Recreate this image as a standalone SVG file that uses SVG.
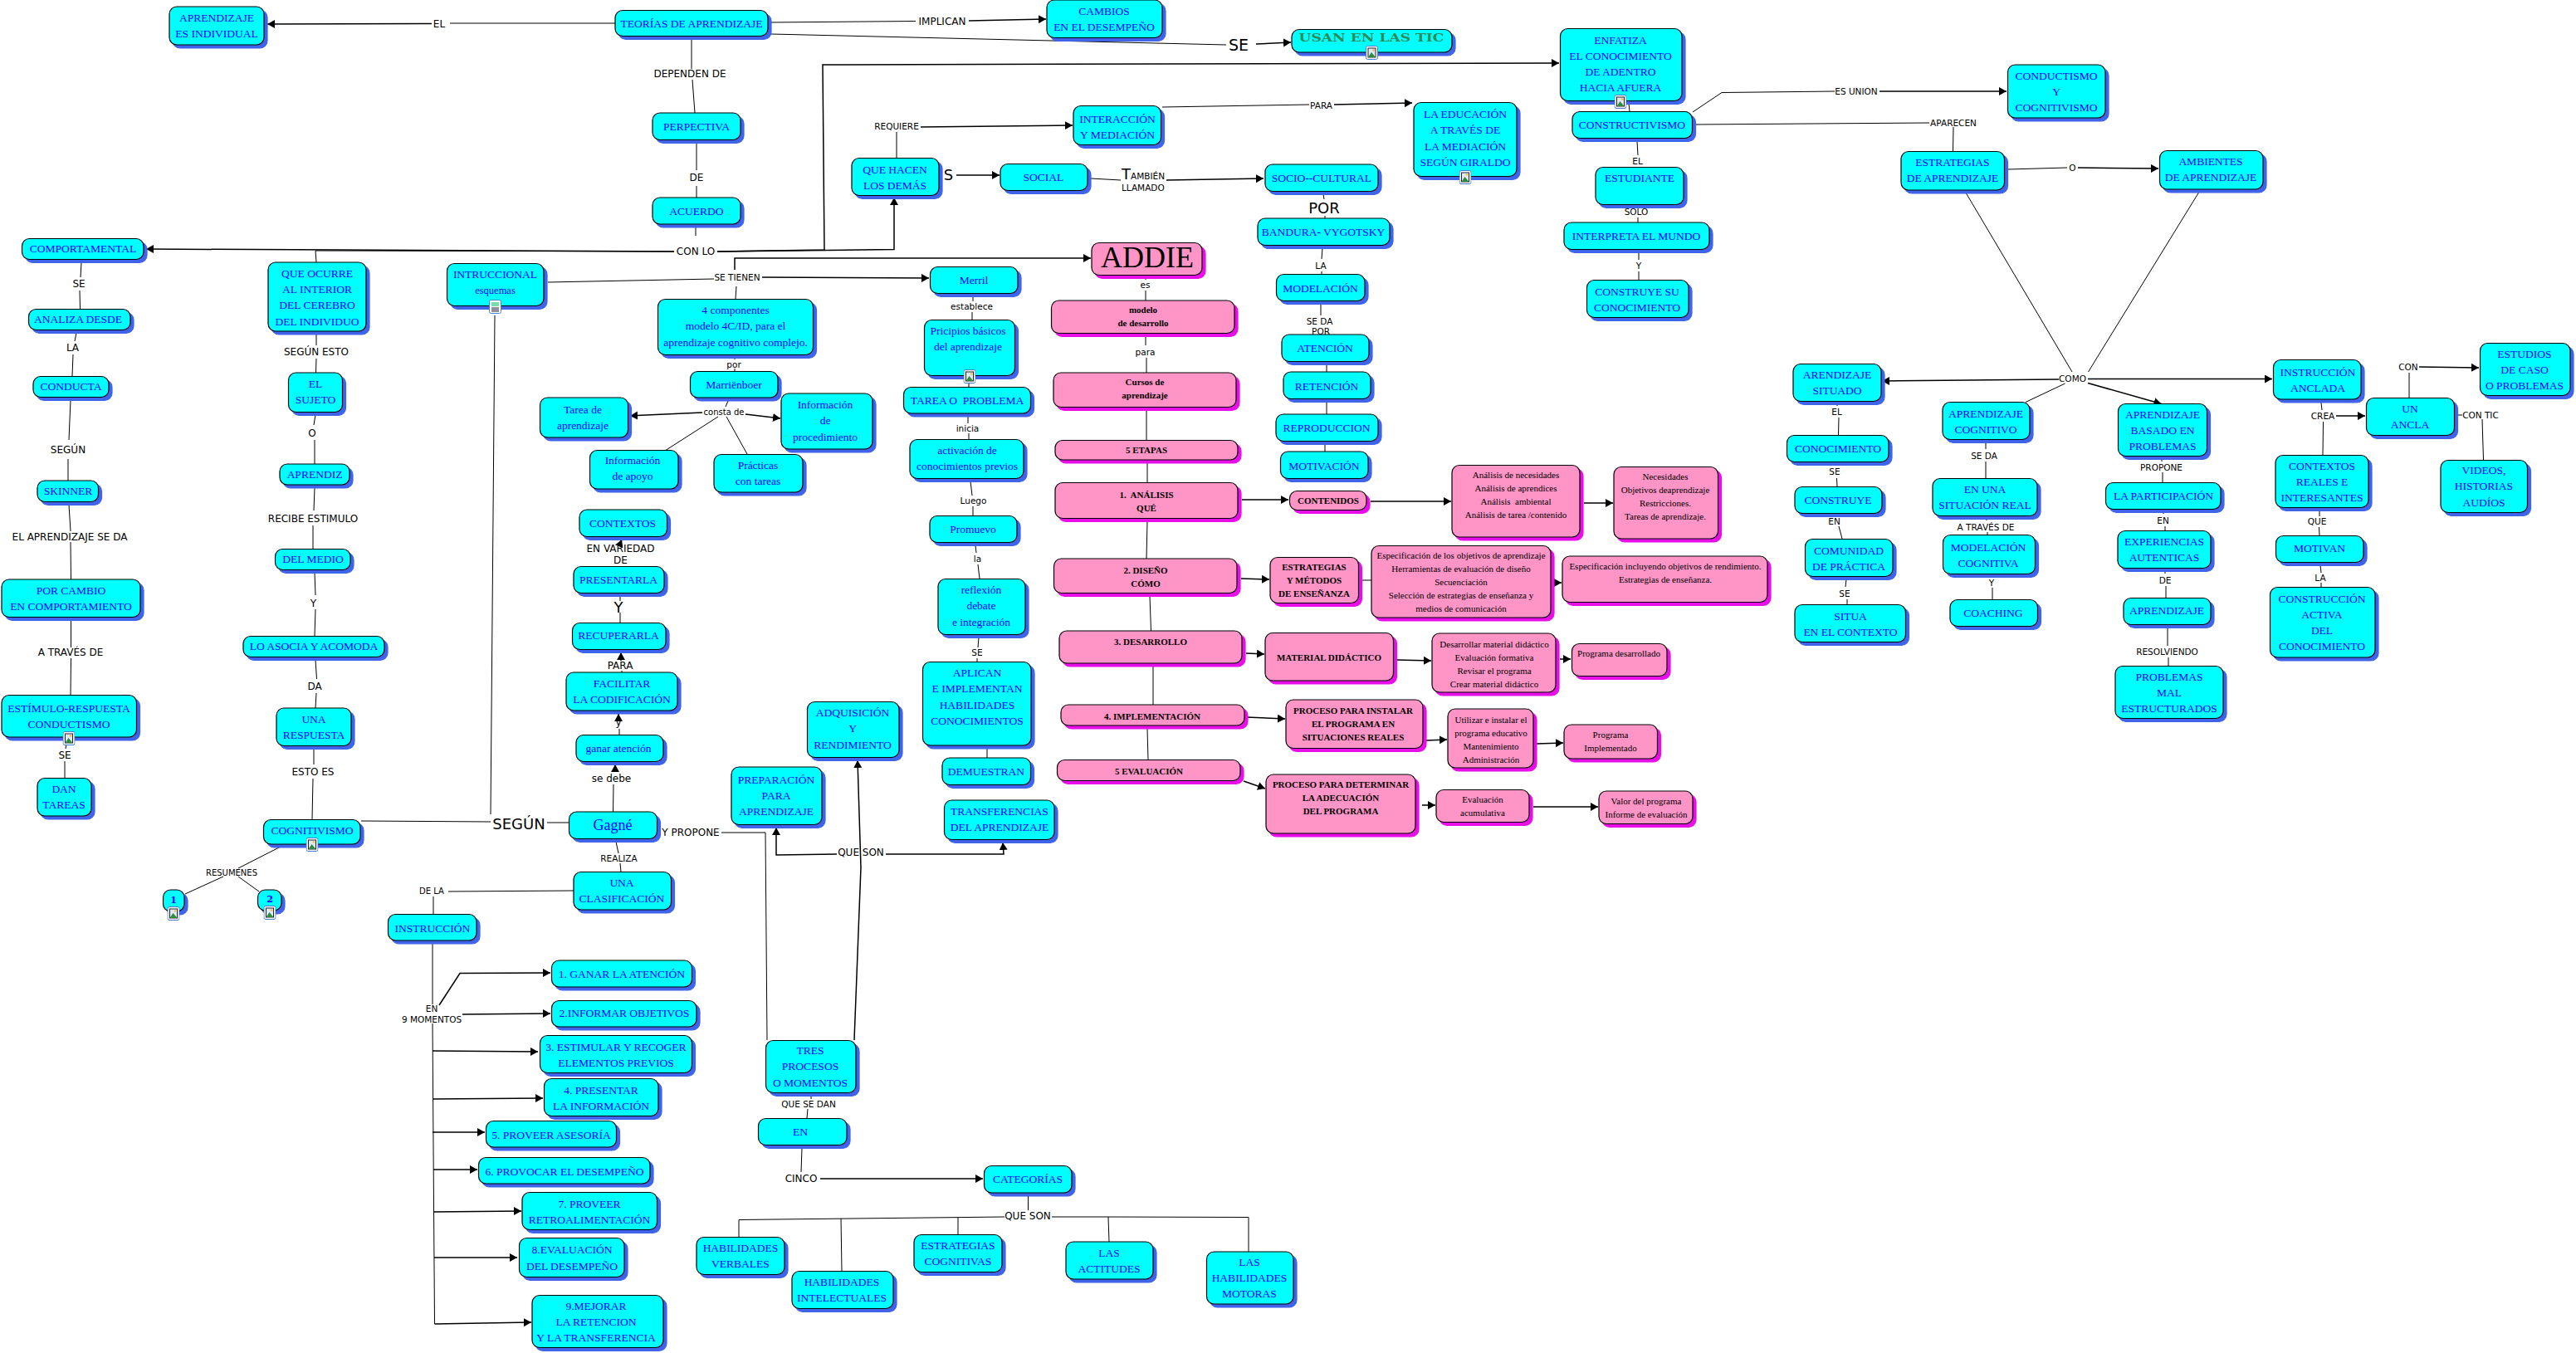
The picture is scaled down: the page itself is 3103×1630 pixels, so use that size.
<svg xmlns="http://www.w3.org/2000/svg" width="3103" height="1630" viewBox="0 0 3103 1630">
<style>
text{font-family:"Liberation Serif","Times New Roman",serif;text-anchor:middle;font-size:13.5px;fill:#00f}
.n>rect{rx:9px;stroke:#000;stroke-width:1.2}
.c>rect{fill:#0ff;filter:drop-shadow(4px 4px 0 #3f63e9)}
.p>rect{fill:#ff94c6;filter:drop-shadow(4px 4px 0 #e80ee8)}
.p text{fill:#000;font-size:11px}
.b text{font-weight:bold}
#connectors path{fill:none;stroke:#000;stroke-width:1}
#connectors .a{stroke-width:1.5;marker-end:url(#ah)}
#labels text{font-family:"DejaVu Sans",sans-serif;fill:#000;font-size:10.5px;dominant-baseline:central}
#labels .m{font-size:12px}
#labels .g{font-size:18px}
</style>
<defs>
<marker id="ah" markerUnits="userSpaceOnUse" markerWidth="10" markerHeight="12" refX="9" refY="5" orient="auto"><path d="M0,0L9,5L0,10Z" fill="#000"/></marker>
<symbol id="ic" width="15" height="17" viewBox="0 0 15 17"><rect x=".5" y=".5" width="14" height="16" rx="2" fill="#fff" stroke="#4a7fd0"/><rect x="3" y="3" width="9" height="11" fill="#dfe9f5" stroke="#223"/><path d="M3,14L7,8L12,14Z" fill="#2e8b3d"/><circle cx="9.5" cy="5.5" r="1.3" fill="#f2c230"/></symbol>
<symbol id="dc" width="15" height="17" viewBox="0 0 15 17"><rect x=".5" y=".5" width="14" height="16" rx="2" fill="#fff" stroke="#4a7fd0"/><rect x="3" y="3" width="9" height="5" fill="#7da"/><path d="M3,10H12M3,12H12M3,14H12" stroke="#223" fill="none"/></symbol>
</defs>
<rect width="3103" height="1630" fill="#fff"/>
<g id="connectors">
<path d="M741,28L542,28"/><path class="a" d="M520,28.5L322,29"/>
<path d="M925,27L1103,25.5"/><path class="a" d="M1167,25L1260,23"/>
<path d="M929,41L1477,54"/><path class="a" d="M1513,53L1555,51"/>
<path d="M833,46L833,83M834,96L837,136"/>
<path d="M839,171L839,205M839,224L839,238"/>
<path d="M838,274L838,284"/>
<path class="a" d="M812,303L176,300"/>
<path d="M812,303L380,302L381,316"/>
<path class="a" d="M864,303L993,301L991,78L1878,76"/>
<path class="a" d="M864,303L1077,300.5L1077,238"/>
<path d="M660,340L860,336"/><path class="a" d="M918,334L1119,335"/>
<path class="a" d="M885,325L885,311L1314,311"/>
<path d="M887,345L886,360"/>
<path d="M885,431L885,433M885,444L885,447"/>
<path d="M877,483L874,490"/>
<path class="a" d="M846,497L759,501"/><path class="a" d="M898,499L940,504"/>
<path d="M865,502L801,543M875,502L900,547"/>
<path d="M596,380L591,981"/>
<path d="M435,989L591,990M659,991L685,991"/>
<path d="M738.5,978L739,945"/><path class="a" d="M741,930L741,921"/>
<path d="M746,885L746,878"/><path class="a" d="M745,868L745,860"/>
<path d="M749,810L749,808"/><path class="a" d="M748,796L748,786"/>
<path d="M747,750L747,738M747,724L747,718"/>
<path class="a" d="M747,655L749,650"/>
<path d="M869,1003L922,1003L924,1253"/>
<path class="a" d="M1029,1253L1037,1045L1033,916"/>
<path class="a" d="M1008,1029L935,1030L935,997"/>
<path class="a" d="M1067,1029L1209,1029L1208,1015"/>
<path d="M977,1320L977,1324M973,1336L972,1347"/>
<path d="M966,1383L965,1412"/><path class="a" d="M988,1420L1184,1420"/>
<path d="M1238.5,1440L1238.5,1458"/>
<path d="M1210,1466L890,1469.5L890,1490M1013,1468L1014,1531M1154,1467L1154,1487M1267,1466L1335,1466L1336,1496M1335,1466L1504,1466.5L1504,1508"/>
<path d="M742,1014L745,1028M747,1040L748,1050"/>
<path d="M691,1073L540,1074M522,1080L522,1101"/>
<path d="M521,1137L521,1210"/>
<path class="a" d="M529,1211L554,1172.5L663,1172"/>
<path class="a" d="M557,1222L663,1221"/>
<path d="M521,1233L523.5,1595"/>
<path class="a" d="M521,1266L648,1267"/><path class="a" d="M522,1324L654,1323"/><path class="a" d="M521,1364L584,1364"/><path class="a" d="M522,1409L575,1409"/><path class="a" d="M522,1460L628,1459"/><path class="a" d="M523,1515L623,1515"/><path class="a" d="M523.5,1595L640,1593"/>
<path d="M98,316L97,334M96,350L96.5,372"/>
<path d="M92,401L90,411M88,427L87,453"/>
<path d="M85,482L83,530M82,553L82,579"/>
<path d="M83,608L85,640M85,653L85.5,698"/>
<path d="M85.5,747L85.5,780M85.5,793L85,837"/>
<path d="M80,897L79,902M78,917L78,937"/>
<path d="M381,403L381,416M381,432L380.5,449"/>
<path d="M380,500L378,512M379,530L379,559"/>
<path d="M379,588L378,615M377,633L377,661"/>
<path d="M379,690L380,717M380,734L379,766"/>
<path d="M380,795L381.5,818M381,835L380,853"/>
<path d="M378,902L378,921M377,938L376,987"/>
<path d="M338,1020L287,1046M269,1056L223,1077M287,1056L312,1074"/>
<path d="M1080,190L1080,159"/><path class="a" d="M1109,153L1292,151"/>
<path d="M1400,129L1577,126"/><path class="a" d="M1607,126L1701,124"/>
<path class="a" d="M1152,211L1204,211"/>
<path d="M1314,215L1350,217"/><path class="a" d="M1405,217L1522,215"/>
<path d="M1594,234L1595,240M1596,260L1596,263"/>
<path d="M1593,299L1592,312M1592,327L1592,330"/>
<path d="M1591,366L1591,380M1598,439L1598,448M1598,484L1598,499M1596,535L1596,544"/>
<path d="M1380,335L1380,337M1380,350L1380,362"/>
<path d="M1380,405L1380,416M1381,431L1381,449"/>
<path d="M1381,494L1381,530M1382,558L1382,581M1382,628L1381,673M1385,718L1386.5,760M1389,803L1389,849M1382,878L1383,915"/>
<path class="a" d="M1496,602L1552,602"/><path class="a" d="M1651,604L1748,604"/><path class="a" d="M1908,606L1943,606"/>
<path class="a" d="M1495,697L1529,698"/><path d="M1641,699L1652,699"/><path class="a" d="M1873,702L1881,702"/>
<path class="a" d="M1501,787L1523,788"/><path class="a" d="M1683,795L1724,796"/><path class="a" d="M1879,794L1892,794"/>
<path class="a" d="M1501,864L1548,866"/><path class="a" d="M1718,892L1743,891"/><path class="a" d="M1851,896L1883,895"/>
<path class="a" d="M1498,941L1524,950"/><path class="a" d="M1713,970L1729,970"/><path class="a" d="M1847,972L1925,972"/>
<path d="M1172,357L1172,363M1171,376L1171,385M1167,460L1167,466"/>
<path d="M1166,502L1166,510M1167,522L1167,529"/>
<path d="M1169,580L1171,597M1172,610L1172,621"/>
<path d="M1175,657L1176,666M1178,680L1180,697"/>
<path d="M1179,768L1178,780M1177,793L1177,797M1189,902L1189,913"/>
<path d="M1962,125L1963,134"/>
<path d="M2039,135L2074,111.5L2210,110"/><path class="a" d="M2264,110L2417,110"/>
<path d="M2042,150L2324,148M2353,153L2352.5,182"/>
<path d="M1972,170L1973,187M1973,262L1973,268M1974,304L1974,313M1974,327L1974,337"/>
<path d="M2419,204L2490,202"/><path class="a" d="M2503,202L2600,203"/>
<path d="M2368.5,233L2496,448M2648.5,232L2515.5,448"/>
<path class="a" d="M2480,457L2267,459"/><path class="a" d="M2515,456.5L2737,456.5"/>
<path d="M2487.5,462L2440,484.5"/><path class="a" d="M2515,461.5L2603.5,486.5"/>
<path d="M2213,487L2213,489M2215,503L2214.5,524.5"/>
<path d="M2211,560L2211,561M2212.5,576L2213,586"/>
<path d="M2215,634L2219,649"/>
<path d="M2224,698L2223,707M2225,722L2225,728"/>
<path d="M2392,533L2392,541M2392,556L2392,576"/>
<path d="M2393,625L2393,627M2394,641L2394,644"/>
<path d="M2400,708L2400,722"/>
<path d="M2604,553L2604,556M2605,569L2605,581"/>
<path d="M2606,617L2606,619M2608,634L2608,639"/>
<path d="M2608,688L2608,691M2609,706L2609,720"/>
<path d="M2611,756L2611,778M2612,792L2612,802"/>
<path d="M2796,485L2797,494M2798.5,508L2798,548"/><path class="a" d="M2814,501L2849,501"/>
<path d="M2794,615L2794,622M2793.5,635L2794,645"/>
<path d="M2795,681L2796,690M2796,702L2796,707"/>
<path d="M2902,479L2902,449"/><path class="a" d="M2914,442L2986,443"/>
<path d="M2960,500L2966,500M2990,505L2991.5,554"/>
</g>
<g id="nodes">
<g id="n-aprendizaje-individual" class="n c"><rect x="204" y="8" width="114" height="46"/><text x="261" y="26">APRENDIZAJE</text><text x="261" y="45">ES INDIVIDUAL</text></g>
<g id="n-teorias" class="n c"><rect x="741" y="12.5" width="184" height="31"/><text x="833" y="33">TEORÍAS DE APRENDIZAJE</text></g>
<g id="n-perpectiva" class="n c"><rect x="786" y="136" width="106" height="32.5"/><text x="839" y="157">PERPECTIVA</text></g>
<g id="n-acuerdo" class="n c"><rect x="786" y="238" width="106" height="32"/><text x="839" y="259">ACUERDO</text></g>
<g id="n-comportamental" class="n c"><rect x="26.5" y="287.5" width="146.5" height="25"/><text x="100" y="304">COMPORTAMENTAL</text></g>
<g id="n-analiza" class="n c"><rect x="34.5" y="372.5" width="122.5" height="25"/><text x="94" y="389">ANALIZA DESDE</text></g>
<g id="n-conducta" class="n c"><rect x="40" y="453.5" width="91" height="25"/><text x="85.5" y="470">CONDUCTA</text></g>
<g id="n-skinner" class="n c"><rect x="45" y="579" width="73.5" height="25.5"/><text x="82" y="596">SKINNER</text></g>
<g id="n-por-cambio" class="n c"><rect x="2" y="698" width="167" height="45.5"/><text x="85.5" y="716">POR CAMBIO</text><text x="85.5" y="735">EN COMPORTAMIENTO</text></g>
<g id="n-estimulo" class="n c"><rect x="2" y="837.5" width="162.5" height="50.5"/><text x="83" y="858">ESTÍMULO-RESPUESTA</text><text x="83" y="877">CONDUCTISMO</text><use href="#ic" x="75.5" y="881"/></g>
<g id="n-dan-tareas" class="n c"><rect x="45" y="937.5" width="65" height="45.5"/><text x="77" y="955">DAN</text><text x="77" y="974">TAREAS</text></g>
<g id="n-que-ocurre" class="n c"><rect x="323" y="316" width="118" height="83"/><text x="382" y="334">QUE OCURRE</text><text x="382" y="353">AL INTERIOR</text><text x="382" y="372">DEL CEREBRO</text><text x="382" y="392">DEL INDIVIDUO</text></g>
<g id="n-sujeto" class="n c"><rect x="347.5" y="449" width="65" height="47.5"/><text x="380" y="467">EL</text><text x="380" y="486">SUJETO</text></g>
<g id="n-aprendiz" class="n c"><rect x="337" y="559" width="84" height="25"/><text x="379" y="576">APRENDIZ</text></g>
<g id="n-del-medio" class="n c"><rect x="331.5" y="661.5" width="90.5" height="25"/><text x="377" y="678">DEL MEDIO</text></g>
<g id="n-lo-asocia" class="n c"><rect x="293" y="766.5" width="170" height="25"/><text x="378" y="783">LO ASOCIA Y ACOMODA</text></g>
<g id="n-una-respuesta" class="n c"><rect x="333" y="853" width="90" height="45.5"/><text x="378" y="871">UNA</text><text x="378" y="890">RESPUESTA</text></g>
<g id="n-cognitivismo" class="n c"><rect x="317.5" y="987.5" width="116.5" height="29.5"/><text x="376" y="1005">COGNITIVISMO</text><use href="#ic" x="368.5" y="1009"/></g>
<g id="n-1" class="n c"><rect x="196.5" y="1072" width="25.5" height="26"/><text x="209" y="1088" style="font-family:'DejaVu Serif',serif;font-weight:bold;font-size:11px">1</text><use href="#ic" x="201.5" y="1092"/></g>
<g id="n-2" class="n c"><rect x="310.5" y="1072" width="28.5" height="25"/><text x="325" y="1087" style="font-family:'DejaVu Serif',serif;font-weight:bold;font-size:11px">2</text><use href="#ic" x="317.5" y="1091"/></g>
<g id="n-intruccional" class="n c"><rect x="538.5" y="317.5" width="116.5" height="51"/><text x="596.5" y="335">INTRUCCIONAL</text><text x="596.5" y="354" style="font-size:12.5px">esquemas</text><use href="#dc" x="589" y="361"/></g>
<g id="n-4c" class="n c"><rect x="792.5" y="360.5" width="187" height="67"/><text x="886" y="378">4 componentes</text><text x="886" y="397">modelo 4C/ID, para el</text><text x="886" y="417">aprendizaje cognitivo complejo.</text></g>
<g id="n-marrienboer" class="n c"><rect x="831.5" y="447.5" width="105.5" height="31.5"/><text x="884" y="468">Marriënboer</text></g>
<g id="n-tarea-aprendizaje" class="n c"><rect x="650.5" y="479" width="106" height="48"/><text x="702" y="498">Tarea de</text><text x="702" y="517">aprendizaje</text></g>
<g id="n-inf-proc" class="n c"><rect x="941" y="474" width="110" height="67"/><text x="994" y="492">Información</text><text x="994" y="511">de</text><text x="994" y="531">procedimiento</text></g>
<g id="n-inf-apoyo" class="n c"><rect x="710.5" y="542.5" width="106.5" height="46.5"/><text x="762" y="559">Información</text><text x="762" y="578">de apoyo</text></g>
<g id="n-practicas" class="n c"><rect x="860" y="547.5" width="107" height="45.5"/><text x="913" y="565">Prácticas</text><text x="913" y="584">con tareas</text></g>
<g id="n-contextos" class="n c"><rect x="698" y="614" width="105.5" height="32.5"/><text x="750" y="635">CONTEXTOS</text></g>
<g id="n-presentarla" class="n c"><rect x="691" y="682.5" width="109" height="32"/><text x="745" y="703">PRESENTARLA</text></g>
<g id="n-recuperarla" class="n c"><rect x="689.5" y="750.5" width="112.5" height="32"/><text x="745" y="770">RECUPERARLA</text></g>
<g id="n-facilitar" class="n c"><rect x="682" y="810" width="134" height="46"/><text x="749" y="828">FACILITAR</text><text x="749" y="847">LA CODIFICACIÓN</text></g>
<g id="n-ganar" class="n c"><rect x="694" y="885.5" width="105" height="32"/><text x="745" y="906">ganar atención</text></g>
<g id="n-gagne" class="n c"><rect x="685.5" y="978" width="106" height="32.5"/><text x="738" y="1000" style="font-size:18px">Gagné</text></g>
<g id="n-clasificacion" class="n c"><rect x="691" y="1050.5" width="117.5" height="45.5"/><text x="749" y="1068">UNA</text><text x="749" y="1087">CLASIFICACIÓN</text></g>
<g id="n-adquisicion" class="n c"><rect x="972.5" y="845.5" width="110.5" height="67"/><text x="1027" y="863">ADQUISICIÓN</text><text x="1027" y="882">Y</text><text x="1027" y="902">RENDIMIENTO</text></g>
<g id="n-preparacion" class="n c"><rect x="881" y="924" width="109" height="69.5"/><text x="935" y="944">PREPARACIÓN</text><text x="935" y="963">PARA</text><text x="935" y="982">APRENDIZAJE</text></g>
<g id="n-instruccion" class="n c"><rect x="467.5" y="1101.5" width="106.5" height="31.5"/><text x="521" y="1123">INSTRUCCIÓN</text></g>
<g id="n-m1" class="n c"><rect x="664.5" y="1157" width="169" height="32"/><text x="749" y="1178">1. GANAR LA ATENCIÓN</text></g>
<g id="n-m2" class="n c"><rect x="664.5" y="1205.5" width="174.5" height="31.5"/><text x="752" y="1225">2.INFORMAR OBJETIVOS</text></g>
<g id="n-m3" class="n c"><rect x="650.5" y="1247.5" width="183" height="45"/><text x="742" y="1266">3. ESTIMULAR Y RECOGER</text><text x="742" y="1285">ELEMENTOS PREVIOS</text></g>
<g id="n-m4" class="n c"><rect x="655.5" y="1299.5" width="137.5" height="45"/><text x="724" y="1318">4. PRESENTAR</text><text x="724" y="1337">LA INFORMACIÓN</text></g>
<g id="n-m5" class="n c"><rect x="585.5" y="1350.5" width="157" height="31.5"/><text x="664" y="1372">5. PROVEER ASESORÍA</text></g>
<g id="n-m6" class="n c"><rect x="576.5" y="1394.5" width="206.5" height="31.5"/><text x="680" y="1416">6. PROVOCAR EL DESEMPEÑO</text></g>
<g id="n-m7" class="n c"><rect x="629" y="1436.5" width="162.5" height="45"/><text x="710" y="1455">7. PROVEER</text><text x="710" y="1474">RETROALIMENTACIÓN</text></g>
<g id="n-m8" class="n c"><rect x="625.5" y="1491.5" width="126.5" height="47"/><text x="689" y="1510">8.EVALUACIÓN</text><text x="689" y="1530">DEL DESEMPEÑO</text></g>
<g id="n-m9" class="n c"><rect x="641" y="1560.5" width="158" height="63"/><text x="718" y="1578">9.MEJORAR</text><text x="718" y="1597">LA RETENCION</text><text x="718" y="1616">Y LA TRANSFERENCIA</text></g>
<g id="n-tres" class="n c"><rect x="922.5" y="1253.5" width="108.5" height="63"/><text x="976" y="1270">TRES</text><text x="976" y="1289">PROCESOS</text><text x="976" y="1309">O MOMENTOS</text></g>
<g id="n-en" class="n c"><rect x="913.5" y="1347.5" width="106.5" height="32"/><text x="964" y="1368">EN</text></g>
<g id="n-categorias" class="n c"><rect x="1185.5" y="1404.5" width="105.5" height="32.5"/><text x="1238" y="1425">CATEGORÍAS</text></g>
<g id="n-hab-verbales" class="n c"><rect x="839" y="1490.5" width="106" height="45"/><text x="892" y="1508">HABILIDADES</text><text x="892" y="1527">VERBALES</text></g>
<g id="n-hab-intelectuales" class="n c"><rect x="954" y="1531.5" width="122" height="45"/><text x="1014" y="1549">HABILIDADES</text><text x="1014" y="1568">INTELECTUALES</text></g>
<g id="n-estrategias-cog" class="n c"><rect x="1101" y="1487.5" width="106" height="45"/><text x="1154" y="1505">ESTRATEGIAS</text><text x="1154" y="1524">COGNITIVAS</text></g>
<g id="n-actitudes" class="n c"><rect x="1284" y="1496" width="105" height="45"/><text x="1336" y="1514">LAS</text><text x="1336" y="1533">ACTITUDES</text></g>
<g id="n-motoras" class="n c"><rect x="1453.5" y="1508" width="104.5" height="63"/><text x="1505" y="1525">LAS</text><text x="1505" y="1544">HABILIDADES</text><text x="1505" y="1563">MOTORAS</text></g>
<g id="n-cambios" class="n c"><rect x="1261" y="0" width="139" height="45.5"/><text x="1330" y="18">CAMBIOS</text><text x="1330" y="37">EN EL DESEMPEÑO</text></g>
<g id="n-usan" class="n c"><rect x="1556" y="35.5" width="193" height="27.5"/><text x="1652" y="50" textLength="175" lengthAdjust="spacingAndGlyphs" style="font-family:'DejaVu Serif',serif;font-weight:bold;font-size:12px;fill:#2e8b57">USAN EN LAS TIC</text><use href="#ic" x="1645" y="55"/></g>
<g id="n-enfatiza" class="n c"><rect x="1879.5" y="34.5" width="146.5" height="87"/><text x="1952" y="53">ENFATIZA</text><text x="1952" y="72">EL CONOCIMIENTO</text><text x="1952" y="91">DE ADENTRO</text><text x="1952" y="110">HACIA AFUERA</text></g>
<g id="n-interaccion" class="n c"><rect x="1293" y="127.5" width="105.5" height="47"/><text x="1346" y="148">INTERACCIÓN</text><text x="1346" y="167">Y MEDIACIÓN</text></g>
<g id="n-educacion" class="n c"><rect x="1703" y="123.5" width="124" height="89"/><text x="1765" y="142">LA EDUCACIÓN</text><text x="1765" y="161">A TRAVÉS DE</text><text x="1765" y="181">LA MEDIACIÓN</text><text x="1765" y="200">SEGÚN GIRALDO</text><use href="#ic" x="1757.5" y="205"/></g>
<g id="n-constructivismo" class="n c"><rect x="1894" y="134.5" width="144.5" height="32"/><text x="1966" y="155">CONSTRUCTIVISMO</text></g>
<use href="#ic" x="1944.5" y="114"/>
<g id="n-que-hacen" class="n c"><rect x="1026" y="190.5" width="105" height="45"/><text x="1078" y="209">QUE HACEN</text><text x="1078" y="228">LOS DEMÁS</text></g>
<g id="n-social" class="n c"><rect x="1205" y="197.5" width="105" height="32"/><text x="1257" y="218">SOCIAL</text></g>
<g id="n-socio" class="n c"><rect x="1524" y="198" width="136" height="32.5"/><text x="1592" y="219">SOCIO--CULTURAL</text></g>
<g id="n-estudiante" class="n c"><rect x="1922" y="201.5" width="106" height="45"/><text x="1975" y="219">ESTUDIANTE</text></g>
<g id="n-bandura" class="n c"><rect x="1515" y="263" width="159" height="32.5"/><text x="1594" y="284">BANDURA- VYGOTSKY</text></g>
<g id="n-interpreta" class="n c"><rect x="1884" y="268" width="175" height="32.5"/><text x="1971" y="289">INTERPRETA EL MUNDO</text></g>
<g id="n-addie" class="n p"><rect x="1315" y="292.5" width="133" height="39"/><text x="1382" y="322" style="font-size:36px">ADDIE</text></g>
<g id="n-modelacion" class="n c"><rect x="1537.5" y="330.5" width="106.5" height="32"/><text x="1590.5" y="352">MODELACIÓN</text></g>
<g id="n-construye-su" class="n c"><rect x="1911.5" y="337.5" width="122.5" height="45"/><text x="1972" y="356">CONSTRUYE SU</text><text x="1972" y="375">CONOCIMIENTO</text></g>
<g id="n-merril" class="n c"><rect x="1120.5" y="321.5" width="105.5" height="32"/><text x="1173" y="342">Merril</text></g>
<g id="n-modelo" class="n p b"><rect x="1266.5" y="362" width="220.5" height="39.5"/><text x="1377" y="377">modelo</text><text x="1377" y="393">de desarrollo</text></g>
<g id="n-pricipios" class="n c"><rect x="1113.5" y="385.5" width="109" height="67"/><text x="1166" y="403">Pricipios básicos</text><text x="1166" y="422">del aprendizaje</text><use href="#ic" x="1160.5" y="445"/></g>
<g id="n-atencion" class="n c"><rect x="1544" y="403" width="105" height="32.5"/><text x="1596" y="424">ATENCIÓN</text></g>
<g id="n-cursos" class="n p b"><rect x="1269" y="449" width="220" height="41.5"/><text x="1379" y="464">Cursos de</text><text x="1379" y="480">aprendizaje</text></g>
<g id="n-retencion" class="n c"><rect x="1546" y="448" width="105" height="32.5"/><text x="1598" y="470">RETENCIÓN</text></g>
<g id="n-tarea-problema" class="n c"><rect x="1088.5" y="466.5" width="153" height="31.5"/><text x="1165" y="487">TAREA O&#160; PROBLEMA</text></g>
<g id="n-reproduccion" class="n c"><rect x="1537" y="499" width="123" height="32.5"/><text x="1598" y="520">REPRODUCCION</text></g>
<g id="n-5etapas" class="n p b"><rect x="1271" y="530.5" width="220" height="23.5"/><text x="1381" y="546">5 ETAPAS</text></g>
<g id="n-motivacion" class="n c"><rect x="1542.5" y="544" width="105.5" height="32.5"/><text x="1595" y="566">MOTIVACIÓN</text></g>
<g id="n-activacion" class="n c"><rect x="1096" y="529.5" width="137" height="47"/><text x="1165" y="547">activación de</text><text x="1165" y="566">conocimientos previos</text></g>
<g id="n-analisis" class="n p b"><rect x="1271" y="581.5" width="220" height="43"/><text x="1381" y="600">1.&#160; ANÁLISIS</text><text x="1381" y="616">QUÉ</text></g>
<g id="n-contenidos" class="n p b"><rect x="1553.5" y="591.5" width="92.5" height="23"/><text x="1600" y="607">CONTENIDOS</text></g>
<g id="n-analisis-list" class="n p"><rect x="1749" y="560.5" width="154" height="86.5"/><text x="1826" y="576">Análisis de necesidades</text><text x="1826" y="592">Análisis de aprendices</text><text x="1826" y="608">Análisis&#160; ambiental</text><text x="1826" y="624">Análisis de tarea /contenido</text></g>
<g id="n-necesidades" class="n p"><rect x="1944" y="562.5" width="125.5" height="86.5"/><text x="2006" y="578">Necesidades</text><text x="2006" y="594">Objetivos deaprendizaje</text><text x="2006" y="610">Restricciones.</text><text x="2006" y="626">Tareas de aprendizaje.</text></g>
<g id="n-promuevo" class="n c"><rect x="1120" y="621.5" width="105" height="32"/><text x="1172" y="642">Promuevo</text></g>
<g id="n-diseno" class="n p b"><rect x="1269.5" y="673" width="220.5" height="41.5"/><text x="1380" y="691">2. DISEÑO</text><text x="1380" y="707">CÓMO</text></g>
<g id="n-estrategias-metodos" class="n p b"><rect x="1530" y="671.5" width="106.5" height="55"/><text x="1583" y="687">ESTRATEGIAS</text><text x="1583" y="703">Y MÉTODOS</text><text x="1583" y="719">DE ENSEÑANZA</text></g>
<g id="n-especificacion" class="n p"><rect x="1652" y="657.5" width="216" height="86.5"/><text x="1760" y="673">Especificación de los objetivos de aprendizaje</text><text x="1760" y="689">Herramientas de evaluación de diseño</text><text x="1760" y="705">Secuenciación</text><text x="1760" y="721">Selección de estrategias de enseñanza y</text><text x="1760" y="737">medios de comunicación</text></g>
<g id="n-incluyendo" class="n p"><rect x="1882" y="670" width="247" height="55.5"/><text x="2006" y="686">Especificación incluyendo objetivos de rendimiento.</text><text x="2006" y="702">Estrategias de enseñanza.</text></g>
<g id="n-reflexion" class="n c"><rect x="1130" y="697.5" width="105" height="67"/><text x="1182" y="715">reflexión</text><text x="1182" y="734">debate</text><text x="1182" y="754">e integración</text></g>
<g id="n-desarrollo" class="n p b"><rect x="1276" y="760" width="220" height="39"/><text x="1386" y="777">3. DESARROLLO</text></g>
<g id="n-material" class="n p b"><rect x="1524" y="762.5" width="154.5" height="57.5"/><text x="1601" y="796">MATERIAL DIDÁCTICO</text></g>
<g id="n-desarrollar" class="n p"><rect x="1725" y="763" width="149" height="71"/><text x="1800" y="780">Desarrollar material didáctico</text><text x="1800" y="796">Evaluación formativa</text><text x="1800" y="812">Revisar el programa</text><text x="1800" y="828">Crear material didáctico</text></g>
<g id="n-programa-des" class="n p"><rect x="1893.5" y="775.5" width="114.5" height="39"/><text x="1950" y="791">Programa desarrollado</text></g>
<g id="n-aplican" class="n c"><rect x="1111.5" y="797.5" width="130.5" height="100.5"/><text x="1177" y="815">APLICAN</text><text x="1177" y="834">E IMPLEMENTAN</text><text x="1177" y="854">HABILIDADES</text><text x="1177" y="873">CONOCIMIENTOS</text></g>
<g id="n-implementacion" class="n p b"><rect x="1278" y="849" width="221" height="25"/><text x="1388" y="867">4. IMPLEMENTACIÓN</text></g>
<g id="n-proceso-instalar" class="n p b"><rect x="1549" y="843" width="165" height="58.5"/><text x="1630" y="860">PROCESO PARA INSTALAR</text><text x="1630" y="876">EL PROGRAMA EN</text><text x="1630" y="892">SITUACIONES REALES</text></g>
<g id="n-utilizar" class="n p"><rect x="1744" y="854" width="103" height="71"/><text x="1796" y="871">Utilizar e instalar el</text><text x="1796" y="887">programa educativo</text><text x="1796" y="903">Mantenimiento</text><text x="1796" y="919">Administración</text></g>
<g id="n-programa-imp" class="n p"><rect x="1884" y="873" width="112.5" height="41"/><text x="1940" y="889">Programa</text><text x="1940" y="905">Implementado</text></g>
<g id="n-demuestran" class="n c"><rect x="1135" y="913" width="106.5" height="32.5"/><text x="1188" y="934">DEMUESTRAN</text></g>
<g id="n-evaluacion" class="n p b"><rect x="1273.5" y="915.5" width="220.5" height="25"/><text x="1384" y="933">5 EVALUACIÓN</text></g>
<g id="n-proceso-determinar" class="n p b"><rect x="1525" y="933" width="180" height="71"/><text x="1615" y="949">PROCESO PARA DETERMINAR</text><text x="1615" y="965">LA ADECUACIÓN</text><text x="1615" y="981">DEL PROGRAMA</text></g>
<g id="n-acumulativa" class="n p"><rect x="1730" y="951.5" width="112" height="39"/><text x="1786" y="967">Evaluación</text><text x="1786" y="983">acumulativa</text></g>
<g id="n-valor" class="n p"><rect x="1926" y="953" width="113" height="39.5"/><text x="1983" y="969">Valor del programa</text><text x="1983" y="985">Informe de evaluación</text></g>
<g id="n-transferencias" class="n c"><rect x="1137.5" y="964" width="132.5" height="47.5"/><text x="1204" y="982">TRANSFERENCIAS</text><text x="1204" y="1001">DEL APRENDIZAJE</text></g>
<g id="n-conductismo" class="n c"><rect x="2418.5" y="78" width="117.5" height="64"/><text x="2477" y="96">CONDUCTISMO</text><text x="2477" y="115">Y</text><text x="2477" y="134">COGNITIVISMO</text></g>
<g id="n-estrategias-apr" class="n c"><rect x="2290" y="182.5" width="124.5" height="46.5"/><text x="2352" y="200">ESTRATEGIAS</text><text x="2352" y="219">DE APRENDIZAJE</text></g>
<g id="n-ambientes" class="n c"><rect x="2601.5" y="181.5" width="124.5" height="46.5"/><text x="2663" y="199">AMBIENTES</text><text x="2663" y="218">DE APRENDIZAJE</text></g>
<g id="n-estudios" class="n c"><rect x="2987.5" y="413.5" width="108.5" height="63"/><text x="3041" y="431">ESTUDIOS</text><text x="3041" y="450">DE CASO</text><text x="3041" y="469">O PROBLEMAS</text></g>
<g id="n-anclada" class="n c"><rect x="2738.5" y="433.5" width="105.5" height="47.5"/><text x="2792" y="453">INSTRUCCIÓN</text><text x="2792" y="472">ANCLADA</text></g>
<g id="n-situado" class="n c"><rect x="2160" y="438.5" width="106" height="45"/><text x="2213" y="456">ARENDIZAJE</text><text x="2213" y="475">SITUADO</text></g>
<g id="n-apr-cognitivo" class="n c"><rect x="2340" y="484.5" width="105" height="45"/><text x="2392" y="503">APRENDIZAJE</text><text x="2392" y="522">COGNITIVO</text></g>
<g id="n-ancla" class="n c"><rect x="2850.5" y="479.5" width="106" height="45"/><text x="2903" y="497">UN</text><text x="2903" y="516">ANCLA</text></g>
<g id="n-abp" class="n c"><rect x="2551.5" y="486.5" width="107" height="63"/><text x="2605" y="504">APRENDIZAJE</text><text x="2605" y="523">BASADO EN</text><text x="2605" y="542">PROBLEMAS</text></g>
<g id="n-conocimiento" class="n c"><rect x="2152.5" y="524.5" width="122.5" height="32"/><text x="2214" y="545">CONOCIMIENTO</text></g>
<g id="n-participacion" class="n c"><rect x="2536.5" y="581.5" width="138.5" height="32"/><text x="2606" y="602">LA PARTICIPACIÓN</text></g>
<g id="n-contextos-reales" class="n c"><rect x="2741" y="548.5" width="112" height="63"/><text x="2797" y="566">CONTEXTOS</text><text x="2797" y="585">REALES E</text><text x="2797" y="604">INTERESANTES</text></g>
<g id="n-videos" class="n c"><rect x="2940" y="554.5" width="104.5" height="63"/><text x="2992" y="571">VIDEOS,</text><text x="2992" y="590">HISTORIAS</text><text x="2992" y="610">AUDÍOS</text></g>
<g id="n-situacion-real" class="n c"><rect x="2328" y="576.5" width="126" height="45"/><text x="2391" y="594">EN UNA</text><text x="2391" y="613">SITUACIÓN REAL</text></g>
<g id="n-construye" class="n c"><rect x="2162" y="586.5" width="105" height="32"/><text x="2214" y="607">CONSTRUYE</text></g>
<g id="n-experiencias" class="n c"><rect x="2551" y="639.5" width="112" height="45"/><text x="2607" y="657">EXPERIENCIAS</text><text x="2607" y="676">AUTENTICAS</text></g>
<g id="n-motivan" class="n c"><rect x="2741.5" y="645.5" width="105.5" height="32"/><text x="2794" y="665">MOTIVAN</text></g>
<g id="n-modelacion-cog" class="n c"><rect x="2340.5" y="644.5" width="111" height="47"/><text x="2395" y="664">MODELACIÓN</text><text x="2395" y="683">COGNITIVA</text></g>
<g id="n-comunidad" class="n c"><rect x="2174.5" y="649.5" width="105.5" height="45"/><text x="2227" y="668">COMUNIDAD</text><text x="2227" y="687">DE PRÁCTICA</text></g>
<g id="n-construccion" class="n c"><rect x="2734.5" y="707.5" width="126.5" height="84.5"/><text x="2797" y="726">CONSTRUCCIÓN</text><text x="2797" y="745">ACTIVA</text><text x="2797" y="764">DEL</text><text x="2797" y="783">CONOCIMIENTO</text></g>
<g id="n-aprendizaje" class="n c"><rect x="2558" y="720.5" width="105" height="32"/><text x="2610" y="740">APRENDIZAJE</text></g>
<g id="n-coaching" class="n c"><rect x="2349" y="722.5" width="105.5" height="32"/><text x="2401" y="743">COACHING</text></g>
<g id="n-situa" class="n c"><rect x="2162" y="728.5" width="133.5" height="45"/><text x="2229" y="747">SITUA</text><text x="2229" y="766">EN EL CONTEXTO</text></g>
<g id="n-problemas" class="n c"><rect x="2548" y="802.5" width="130" height="63"/><text x="2613" y="820">PROBLEMAS</text><text x="2613" y="839">MAL</text><text x="2613" y="858">ESTRUCTURADOS</text></g>
</g>
<g id="labels">
<text class="m" x="529" y="29">EL</text>
<text class="m" x="1135" y="25.5">IMPLICAN</text>
<text style="font-size:19px" x="1492" y="54">SE</text>
<text class="m" x="831" y="89">DEPENDEN DE</text>
<text class="m" x="839" y="214">DE</text>
<text class="m" x="838" y="303">CON LO</text>
<text x="888" y="334">SE TIENEN</text>
<text x="884" y="438.5">por</text>
<text style="font-size:10px" x="872" y="496">consta de</text>
<text class="g" x="625" y="992">SEGÚN</text>
<text class="m" x="736.5" y="938">se debe</text>
<text class="m" x="745" y="870">y</text>
<text class="m" x="747" y="802">PARA</text>
<text class="g" x="745" y="731">Y</text>
<text class="m" x="747.5" y="661">EN VARIEDAD</text>
<text class="m" x="747.5" y="675">DE</text>
<text class="m" x="832" y="1002.5">Y PROPONE</text>
<text class="m" x="1037" y="1027">QUE SON</text>
<text x="974" y="1330">QUE SE DAN</text>
<text class="m" x="965" y="1420">CINCO</text>
<text class="m" x="1238" y="1465">QUE SON</text>
<text x="745.5" y="1033.5">REALIZA</text>
<text style="font-size:10px" x="520" y="1073.5">DE LA</text>
<text x="520" y="1215">EN</text>
<text x="520" y="1228">9 MOMENTOS</text>
<text class="m" x="95" y="342">SE</text>
<text class="m" x="87.5" y="418.5">LA</text>
<text class="m" x="82" y="542">SEGÚN</text>
<text class="m" x="84" y="646.5">EL APRENDIZAJE SE DA</text>
<text class="m" x="85" y="786">A TRAVÉS DE</text>
<text class="m" x="78" y="909.5">SE</text>
<text class="m" x="381" y="424">SEGÚN ESTO</text>
<text class="m" x="376" y="522">O</text>
<text class="m" x="377" y="624.5">RECIBE ESTIMULO</text>
<text class="m" x="377.5" y="726.5">Y</text>
<text class="m" x="379" y="826.5">DA</text>
<text class="m" x="377" y="929.5">ESTO ES</text>
<text style="font-size:10px" x="279" y="1051">RESUMENES</text>
<text x="1080" y="152">REQUIERE</text>
<text x="1591.5" y="126.5">PARA</text>
<text class="g" x="1142.5" y="210">S</text>
<text x="1351" y="216" style="text-anchor:start;dominant-baseline:auto"><tspan style="font-size:18px">T</tspan>AMBIÉN</text>
<text x="1351" y="226" style="text-anchor:start">LLAMADO</text>
<text class="g" x="1595" y="250">POR</text>
<text x="1591" y="319.5">LA</text>
<text x="1589.5" y="387">SE DA</text>
<text x="1591" y="399">POR</text>
<text x="1379.5" y="343">es</text>
<text x="1379.5" y="423.5">para</text>
<text x="1170.5" y="369">establece</text>
<text x="1165.5" y="516">inicia</text>
<text x="1172.5" y="603">Luego</text>
<text x="1177.5" y="673">la</text>
<text x="1177" y="786">SE</text>
<text x="2236" y="110">ES UNION</text>
<text x="2353" y="148">APARECEN</text>
<text x="1972.5" y="193.5">EL</text>
<text x="1971" y="255">SOLO</text>
<text x="1974" y="320">Y</text>
<text x="2496.5" y="202">O</text>
<text x="2496.5" y="456">COMO</text>
<text x="2212.5" y="496">EL</text>
<text x="2210" y="568">SE</text>
<text x="2209.5" y="627.5">EN</text>
<text x="2222" y="714.5">SE</text>
<text x="2390" y="548.5">SE DA</text>
<text x="2392" y="634.5">A TRAVÉS DE</text>
<text x="2399" y="702">Y</text>
<text x="2603.5" y="562.5">PROPONE</text>
<text x="2605.5" y="626.5">EN</text>
<text x="2608" y="698.5">DE</text>
<text x="2610.5" y="785">RESOLVIENDO</text>
<text x="2798" y="501">CREA</text>
<text x="2791" y="628">QUE</text>
<text x="2795" y="695.5">LA</text>
<text x="2901" y="441.5">CON</text>
<text x="2988" y="500">CON TIC</text>
</g>
</svg>
